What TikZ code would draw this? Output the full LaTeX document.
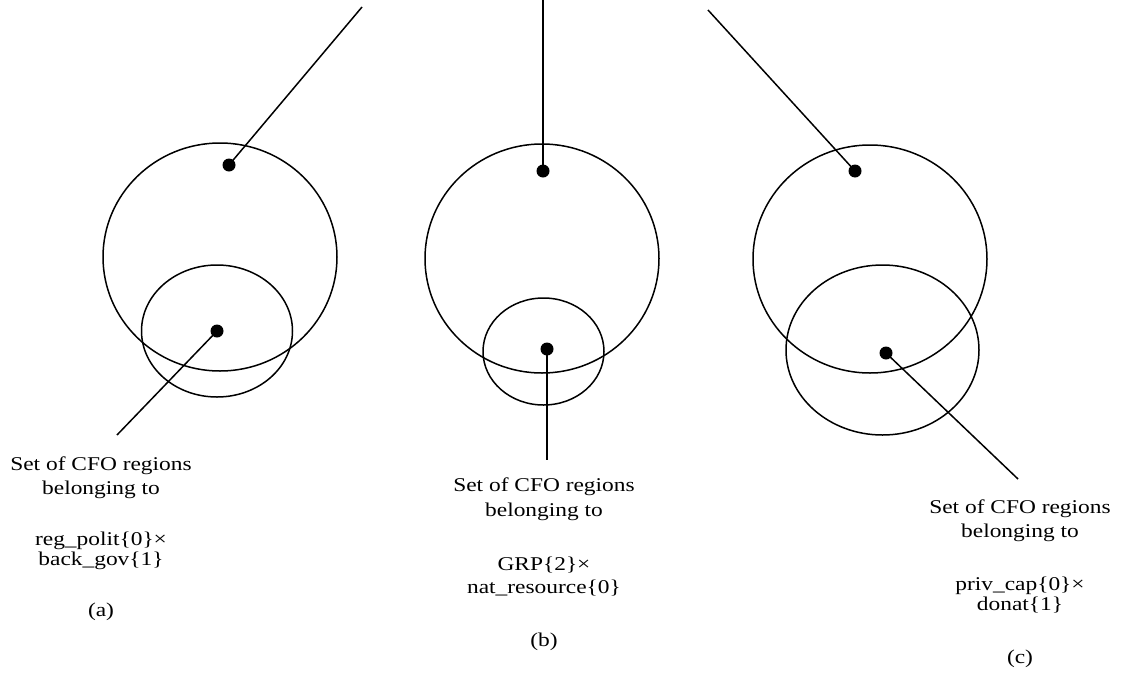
\documentclass[tikz,border=0pt]{standalone}
\usepackage{fontspec}
\setmainfont{Liberation Serif}[FakeStretch=1.2]
\begin{document}
\begin{tikzpicture}[x=1pt,y=-1pt,
  ring/.style={draw=black,line width=1.5pt},
  dotnode/.style={circle,fill=black,inner sep=0pt,minimum size=13pt},
  link/.style={draw=black,line width=1.5pt},
  lbl/.style={anchor=base,inner sep=0pt,font=\fontsize{19.5}{23}\selectfont}]
\useasboundingbox (0,0) rectangle (1125,675);
% ---- panel (a)
\draw[ring] (220,257) ellipse [x radius=117pt, y radius=114pt];
\draw[ring] (217,331) ellipse [x radius=75.5pt, y radius=66pt];
\node[dotnode] (a1) at (229,165) {};
\node[dotnode] (a2) at (217,331) {};
\coordinate (a1e) at (362,7);
\coordinate (a2e) at (117,435);
\draw[link] (a1.center) -- (a1e);
\draw[link] (a2.center) -- (a2e);
\node[lbl] (at1) at (101,470) {Set of CFO regions};
\node[lbl] (at2) at (101,494) {belonging to};
\node[lbl] (at3) at (101,545) {reg\_polit\{0\}×};
\node[lbl] (at4) at (101,565) {back\_gov\{1\}};
\node[lbl] (at5) at (101,616) {(a)};
% ---- panel (b)
\draw[ring] (542,258.5) ellipse [x radius=117pt, y radius=114.5pt];
\draw[ring] (543.5,351.5) ellipse [x radius=60.5pt, y radius=53.5pt];
\node[dotnode] (b1) at (543,171) {};
\node[dotnode] (b2) at (547,349) {};
\coordinate (b1e) at (543,0);
\coordinate (b2e) at (547,460);
\draw[link] (b1.center) -- (b1e);
\draw[link] (b2.center) -- (b2e);
\node[lbl] (bt1) at (544,491) {Set of CFO regions};
\node[lbl] (bt2) at (544,516) {belonging to};
\node[lbl] (bt3) at (544,570) {GRP\{2\}×};
\node[lbl] (bt4) at (544,593) {nat\_resource\{0\}};
\node[lbl] (bt5) at (544,646) {(b)};
% ---- panel (c)
\draw[ring] (870,259) ellipse [x radius=117pt, y radius=114pt];
\draw[ring] (882.5,350) ellipse [x radius=96.5pt, y radius=85pt];
\node[dotnode] (c1) at (855,171) {};
\node[dotnode] (c2) at (886,353) {};
\coordinate (c1e) at (708,10);
\coordinate (c2e) at (1018,479);
\draw[link] (c1.center) -- (c1e);
\draw[link] (c2.center) -- (c2e);
\node[lbl] (ct1) at (1020,513) {Set of CFO regions};
\node[lbl] (ct2) at (1020,537) {belonging to};
\node[lbl] (ct3) at (1020,590) {priv\_cap\{0\}×};
\node[lbl] (ct4) at (1020,610) {donat\{1\}};
\node[lbl] (ct5) at (1020,663) {(c)};
\end{tikzpicture}
\end{document}
